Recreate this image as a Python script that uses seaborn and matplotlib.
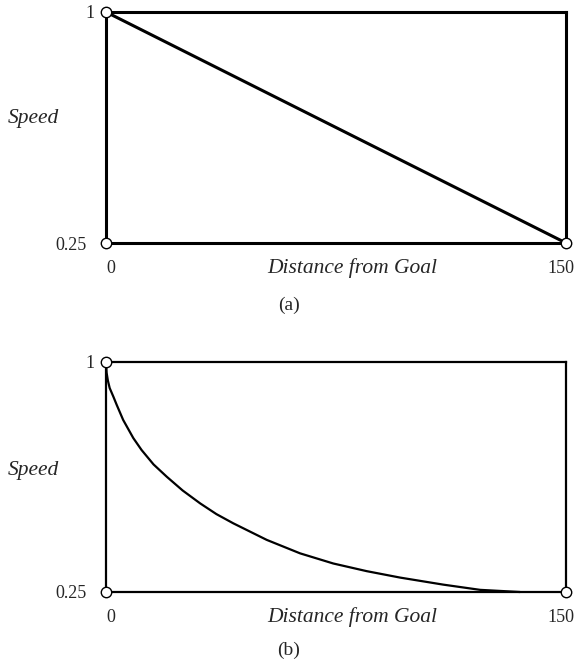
import matplotlib
matplotlib.use("Agg")
import matplotlib.pyplot as plt
import matplotlib.transforms as mtransforms
import seaborn as sns
import pandas as pd

sns.set_theme(style="white")
plt.rcParams["font.family"] = ["Liberation Serif", "DejaVu Serif"]

# Speed profiles as a function of distance from the goal
dist_linear = [0, 150]
speed_linear = [1.0, 0.25]

dist_curve = [0, 0.2, 0.6, 1.2, 2.4, 3.5, 5.6, 8.9, 11.6, 15.5, 19.8, 25.0,
              30.7, 36.0, 41.5, 52.4, 63.3, 74.1, 85.0, 95.9, 110, 122, 135]
speed_curve = [1.0, 0.965, 0.94, 0.915, 0.887, 0.86, 0.811, 0.752, 0.713,
               0.666, 0.626, 0.581, 0.539, 0.504, 0.474, 0.42, 0.376, 0.343,
               0.318, 0.297, 0.274, 0.257, 0.25]

corner_x = [0, 0, 150]
corner_y = [1.0, 0.25, 0.25]

x_ticks = [0, 150]
x_tick_labels = ["0", "150"]
y_ticks = [0.25, 1.0]
y_tick_labels = ["0.25", "1"]

W, H = 576, 664
fig = plt.figure(figsize=(W / 100, H / 100), dpi=100)


def shift(label, dx_px, dy_px=0):
    label.set_transform(label.get_transform()
                        + mtransforms.ScaledTranslation(dx_px / 100, dy_px / 100,
                                                        fig.dpi_scale_trans))


def panel(rect_px, dist, speed, lw, tag, tag_y, speed_y):
    left, top, right, bottom = rect_px
    ax = fig.add_axes([left / W, 1 - bottom / H, (right - left) / W, (bottom - top) / H])
    df = pd.DataFrame({"dist": dist, "speed": speed})
    sns.lineplot(data=df, x="dist", y="speed", ax=ax, color="black", lw=lw,
                 clip_on=False)
    ax.plot(corner_x, corner_y, ls="none", marker="o", ms=7.5, mfc="white",
            mec="black", mew=1.0, clip_on=False, zorder=5)
    ax.set_xlim(0, 150)
    ax.set_ylim(0.25, 1.0)
    for s in ax.spines.values():
        s.set_color("black")
        s.set_linewidth(lw)
    ax.set_xticks(x_ticks)
    ax.set_xticklabels(x_tick_labels, fontsize=13)
    ax.set_yticks(y_ticks)
    ax.set_yticklabels(y_tick_labels, fontsize=13)
    ax.tick_params(axis="x", length=0, pad=12)
    ax.tick_params(axis="y", length=0, pad=14)
    xl = ax.get_xticklabels()
    shift(xl[0], 5)
    shift(xl[1], -5)
    yl = ax.get_yticklabels()
    shift(yl[1], 8)
    ax.set_xlabel("")
    ax.set_ylabel("")
    fig.text(352 / W, 1 - (bottom + 25) / H, "Distance from Goal", ha="center",
             va="center", fontsize=15.5, style="italic")
    fig.text(8 / W, 1 - speed_y / H, "Speed", ha="left", va="center",
             fontsize=15.5, style="italic")
    fig.text(289 / W, 1 - tag_y / H, tag, ha="center", va="center", fontsize=14)
    return ax


panel((106, 12, 566, 243), dist_linear, speed_linear, 2.2, "(a)", 305, 118)
panel((106, 362, 566, 592), dist_curve, speed_curve, 1.6, "(b)", 650, 470)

fig.savefig("out.png", dpi=100, facecolor="white")
